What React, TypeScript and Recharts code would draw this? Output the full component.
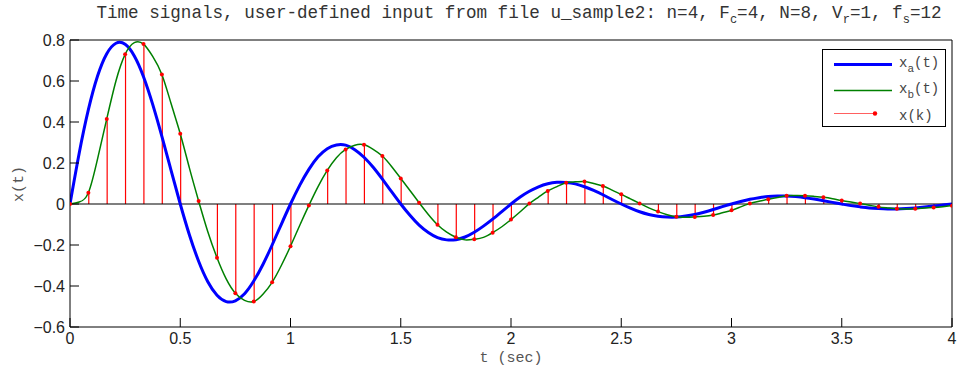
import { ComposedChart, Line, Bar, XAxis, YAxis, ReferenceLine } from 'recharts';

// sampling: continuous curves read every 1/24 s, samples x(k) at fs = 12
const tStep = 1 / 24;

// x_a(t), read at t = 0, 1/24, 2/24, ... 4
const xa = [
  0, 0.248, 0.46, 0.624, 0.733, 0.784, 0.779, 0.722, 0.621, 0.486, 0.33, 0.164, 0,
  -0.151, -0.279, -0.379, -0.445, -0.476, -0.472, -0.438, -0.376, -0.295, -0.2, -0.099, 0,
  0.091, 0.169, 0.23, 0.27, 0.288, 0.287, 0.265, 0.228, 0.179, 0.121, 0.06, 0,
  -0.055, -0.103, -0.139, -0.164, -0.175, -0.174, -0.161, -0.138, -0.108, -0.074, -0.037, 0,
  0.034, 0.062, 0.084, 0.099, 0.106, 0.105, 0.098, 0.084, 0.066, 0.045, 0.022, 0,
  -0.02, -0.038, -0.051, -0.06, -0.064, -0.064, -0.059, -0.051, -0.04, -0.027, -0.013, 0,
  0.012, 0.023, 0.031, 0.037, 0.039, 0.039, 0.036, 0.031, 0.024, 0.016, 0.008, 0,
  -0.008, -0.014, -0.019, -0.022, -0.024, -0.024, -0.022, -0.019, -0.015, -0.01, -0.005, 0,
];

// x(k), k = 0..48 (t = k/12); x_b(t) passes through these
const xk = [
  0, 0.055, 0.415, 0.73, 0.78, 0.632, 0.343, 0.015, -0.262, -0.435, -0.476, -0.382, -0.206,
  -0.007, 0.164, 0.266, 0.289, 0.234, 0.125, 0.006, -0.101, -0.162, -0.172, -0.14, -0.076,
  0.002, 0.064, 0.104, 0.11, 0.088, 0.047, 0.003, -0.037, -0.062, -0.063, -0.054, -0.031,
  0.002, 0.023, 0.04, 0.04, 0.033, 0.017, 0.002, -0.014, -0.023, -0.023, -0.017, -0.008,
];

// x_b(t) between samples, at t = (2k+1)/24
const xbMid = [
  0.01, 0.22, 0.6, 0.787, 0.72, 0.49, 0.175, -0.135, -0.365, -0.47, -0.44, -0.3,
  -0.105, 0.085, 0.226, 0.287, 0.267, 0.183, 0.066, -0.051, -0.137, -0.175, -0.163, -0.111,
  -0.038, 0.034, 0.085, 0.108, 0.1, 0.068, 0.025, -0.019, -0.052, -0.065, -0.06, -0.043,
  -0.014, 0.013, 0.032, 0.041, 0.037, 0.026, 0.01, -0.006, -0.019, -0.024, -0.02, -0.013,
];

const xTicks = [0, 0.5, 1, 1.5, 2, 2.5, 3, 3.5, 4];
const yTicks = [-0.6, -0.4, -0.2, 0, 0.2, 0.4, 0.6, 0.8];

const data = xa.map((a, i) => ({
  t: i * tStep,
  xa: a,
  xb: i % 2 === 0 ? xk[i / 2] : xbMid[(i - 1) / 2],
  xk: i % 2 === 0 ? xk[i / 2] : null,
}));

const W = 963;
const H = 373;
const mono = '"Liberation Mono", "DejaVu Sans Mono", monospace';
const sans = '"Liberation Sans", Arial, sans-serif';

const fmtY = (v: number) => (v === 0 ? '0' : v < 0 ? `\u2212${Math.abs(v).toFixed(1)}` : v.toFixed(1));

function Stem(props: any) {
  const { x, y, width, height, payload } = props;
  if (!payload || payload.xk == null) return null;
  const cx = x + width / 2;
  return <line x1={cx} x2={cx} y1={y} y2={y + height} stroke="#ff0000" strokeWidth={1.2} />;
}

function Overlay() {
  return (
    <svg width={W} height={H} style={{ position: 'absolute', left: 0, top: 0, pointerEvents: 'none' }}>
      <text x={519} y={18} textAnchor="middle" fontFamily={mono} fontSize={17.6} fill="#333">
        Time signals, user-defined input from file u_sample2: n=4, F
        <tspan dy={5} fontSize={12}>c</tspan>
        <tspan dy={-5}>=4, N=8, V</tspan>
        <tspan dy={5} fontSize={12}>r</tspan>
        <tspan dy={-5}>=1, f</tspan>
        <tspan dy={5} fontSize={12}>s</tspan>
        <tspan dy={-5}>=12</tspan>
      </text>
      <text x={511} y={362} textAnchor="middle" fontFamily={mono} fontSize={15} fill="#555">
        t (sec)
      </text>
      <text x={0} y={0} transform="translate(23,184) rotate(-90)" textAnchor="middle" fontFamily={mono} fontSize={15} fill="#555">
        x(t)
      </text>
      <rect x={822.5} y={49.5} width={123} height={77} fill="#fff" stroke="#000" strokeWidth={1} />
      <line x1={834} x2={892} y1={64.5} y2={64.5} stroke="#0000ff" strokeWidth={3} />
      <line x1={834} x2={892} y1={90.5} y2={90.5} stroke="#008000" strokeWidth={1.5} />
      <line x1={834} x2={875} y1={113.5} y2={113.5} stroke="#ff6060" strokeWidth={1} />
      <circle cx={875} cy={113.5} r={2.2} fill="#ff0000" />
      <g fontFamily={mono} fontSize={14} fill="#444">
        <text x={899} y={67}>
          x<tspan dy={5} fontSize={11}>a</tspan>
          <tspan dy={-5}>(t)</tspan>
        </text>
        <text x={899} y={93}>
          x<tspan dy={5} fontSize={11}>b</tspan>
          <tspan dy={-5}>(t)</tspan>
        </text>
        <text x={899} y={120}>x(k)</text>
      </g>
    </svg>
  );
}

export default function App() {
  const tickStyle = { fontSize: 16, fill: '#222', fontFamily: sans };
  return (
    <div style={{ position: 'absolute', left: 0, top: 0, width: W, height: H, background: '#fff' }}>
      <ComposedChart width={W} height={H} data={data} margin={{ top: 39, right: 10, bottom: 16, left: 20 }}>
        <XAxis
          dataKey="t"
          type="number"
          domain={[0, 4]}
          ticks={xTicks}
          tickFormatter={(v) => String(v)}
          tick={tickStyle}
          tickSize={-9}
          tickMargin={15}
          height={30}
          stroke="#000"
          allowDataOverflow
        />
        <XAxis
          xAxisId="top"
          dataKey="t"
          type="number"
          orientation="top"
          domain={[0, 4]}
          ticks={xTicks}
          tick={false}
          tickSize={-9}
          height={1}
          stroke="#000"
          allowDataOverflow
        />
        <YAxis
          type="number"
          domain={[-0.6, 0.8]}
          ticks={yTicks}
          tickFormatter={fmtY}
          tick={tickStyle}
          tickSize={-9}
          tickMargin={14}
          width={50}
          stroke="#000"
          allowDataOverflow
        />
        <YAxis
          yAxisId="right"
          type="number"
          orientation="right"
          domain={[-0.6, 0.8]}
          ticks={yTicks}
          tick={false}
          tickSize={-9}
          width={1}
          stroke="#000"
          allowDataOverflow
        />
        <ReferenceLine y={0} stroke="#000" strokeWidth={1.2} />
        <Bar dataKey="xk" barSize={2} shape={<Stem />} isAnimationActive={false} />
        <Line
          type="natural"
          dataKey="xa"
          stroke="#0000ff"
          strokeWidth={3}
          dot={false}
          isAnimationActive={false}
        />
        <Line
          type="natural"
          dataKey="xb"
          stroke="#008000"
          strokeWidth={1.5}
          dot={false}
          isAnimationActive={false}
        />
        <Line
          dataKey="xk"
          stroke="none"
          strokeWidth={0}
          dot={{ r: 2, fill: '#ff0000', stroke: 'none' }}
          connectNulls={false}
          isAnimationActive={false}
        />
      </ComposedChart>
      <Overlay />
    </div>
  );
}
